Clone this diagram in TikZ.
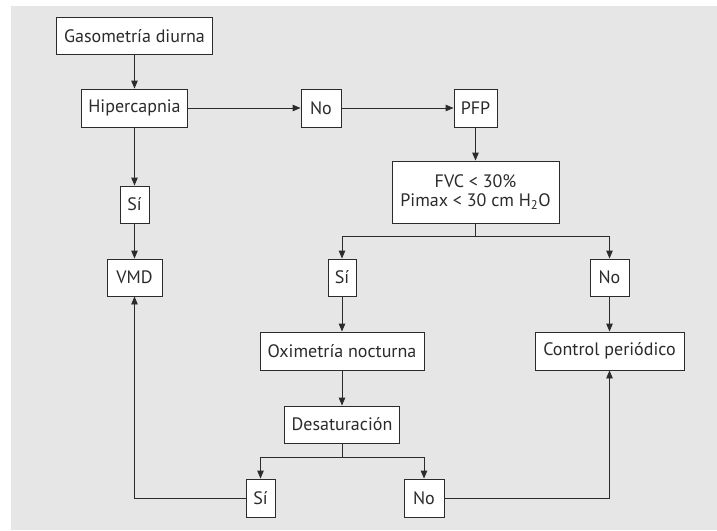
\documentclass[tikz,border=0pt]{standalone}
\usepackage{fontspec}
\setmainfont{PT Sans}
\usetikzlibrary{arrows.meta}
\definecolor{bg}{HTML}{E6E6E6}
\definecolor{ln}{HTML}{2B2B2B}
\begin{document}
\begin{tikzpicture}[x=1pt,y=-1pt,
  box/.style={draw=ln,fill=white,line width=0.9pt,inner sep=0pt,font=\fontsize{18}{19}\selectfont,align=center,text=ln},
  conn/.style={draw=ln,line width=0.9pt},
  arr/.style={conn,-{Triangle[length=8pt,width=6.5pt]}}]
\useasboundingbox (0,0) rectangle (717,530);
\fill[bg] (11,6) rectangle (717,530);
\node[box,minimum width=156pt,minimum height=37pt] (gas) at (134.5,36) {Gasometría diurna};
\node[box,minimum width=106pt,minimum height=38pt] (hip) at (134.5,108) {Hipercapnia};
\node[box,minimum width=40pt,minimum height=38pt] (no1) at (321,108) {No};
\node[box,minimum width=43pt,minimum height=38pt] (pfp) at (475.5,108) {PFP};
\node[box,minimum width=29pt,minimum height=37pt] (si1) at (134.5,204.5) {Sí};
\node[box,minimum width=55pt,minimum height=37pt] (vmd) at (134.5,277.5) {VMD};
\node[box,minimum width=167pt,minimum height=62pt] (fvc) at (475.5,192) {FVC < 30\%\\Pimax < 30 cm H\textsubscript{2}O};
\node[box,minimum width=28pt,minimum height=37pt] (si2) at (342,277.5) {Sí};
\node[box,minimum width=39pt,minimum height=37pt] (no2) at (609.5,277.5) {No};
\node[box,minimum width=164pt,minimum height=38pt] (oxi) at (342,351) {Oximetría nocturna};
\node[box,minimum width=149pt,minimum height=38pt] (ctl) at (609.5,351) {Control periódico};
\node[box,minimum width=115pt,minimum height=37pt] (des) at (342,424.5) {Desaturación};
\node[box,minimum width=29pt,minimum height=38pt] (si3) at (260.5,498) {Sí};
\node[box,minimum width=40pt,minimum height=38pt] (no3) at (424,498) {No};
\coordinate (b1) at (475.5,236);
\coordinate (b2) at (342,457);
\draw[arr] (gas) -- (hip);
\draw[arr] (hip) -- (no1);
\draw[arr] (no1) -- (pfp);
\draw[arr] (pfp) -- (fvc);
\draw[arr] (hip) -- (si1);
\draw[arr] (si1) -- (vmd);
\draw[conn] (fvc.south) -- (b1);
\draw[arr] (b1) -| (si2.north);
\draw[arr] (b1) -| (no2.north);
\draw[arr] (si2) -- (oxi);
\draw[arr] (no2) -- (ctl);
\draw[arr] (oxi) -- (des);
\draw[conn] (des.south) -- (b2);
\draw[arr] (b2) -| (si3.north);
\draw[arr] (b2) -| (no3.north);
\draw[arr] (si3.west) -| (vmd.south);
\draw[arr] (no3.east) -| (ctl.south);
\end{tikzpicture}
\end{document}
